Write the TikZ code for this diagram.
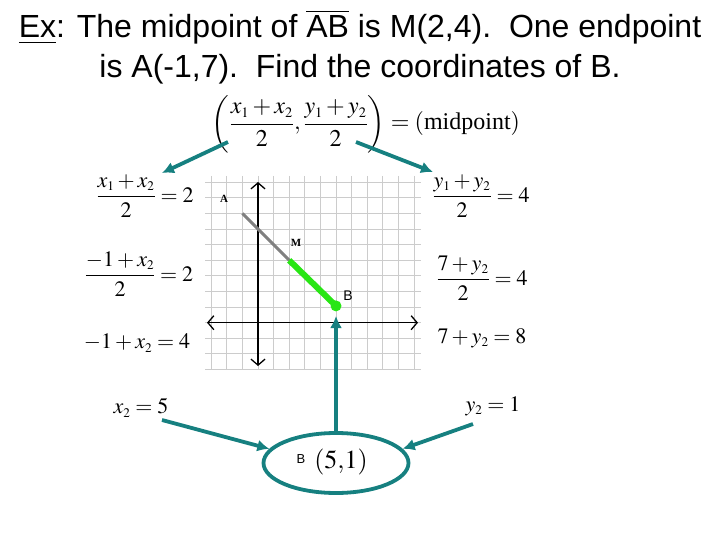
\documentclass[tikz,border=0pt]{standalone}
\usepackage{amsmath}
\usepackage{mathptmx}
\usepackage{fontspec}
\setmainfont{Liberation Serif}
\newfontfamily\arial{Liberation Sans}
\renewcommand{\defaultscriptratio}{.6}
\usepackage{tikz}
\usetikzlibrary{arrows.meta}
\usetikzlibrary{shapes.geometric}
\definecolor{tealarr}{RGB}{22,128,128}
\definecolor{grn}{RGB}{40,230,20}

\begin{document}
\begin{tikzpicture}[x=1pt, y=-1pt,
  eq/.style={inner sep=0pt, font=\fontsize{22}{26}\selectfont},
  arr/.style={-{Latex[length=12pt,width=12pt]}, line width=3.8pt, draw=tealarr},
  ttl/.style={anchor=base, inner sep=0pt, font=\arial\fontsize{32}{38}\selectfont},
  lbl/.style={inner sep=0pt, font=\bfseries\fontsize{11}{13}\selectfont}]
\useasboundingbox (0,0) rectangle (720,540);
\node [ttl] (T1) at (360,38) {\underline{Ex}: The midpoint of $\overline{\mbox{AB}}$ is M(2,4).\ \ One endpoint};
\node [ttl] (T2) at (360,78) {is A(-1,7).\ \ Find the coordinates of B.};
\node [eq, font=\fontsize{24}{28}\selectfont] (mid) at (366,124) {$\biggl(\dfrac{x_1+x_2}{2},\dfrac{y_1+y_2}{2}\biggr)=(\text{midpoint})$};
% grid
\begin{scope}
\clip (205,176) rectangle (421,370);
\foreach \k in {-4,...,10}
  \draw [gray!40, line width=1pt] ({258+15.6*\k},176) -- ({258+15.6*\k},370);
\foreach \k in {-3,...,9}
  \draw [gray!40, line width=1pt] (205,{322.7-15.6*\k}) -- (421,{322.7-15.6*\k});
\end{scope}
\draw [line width=1.3pt, {Straight Barb[length=6pt,width=14pt]}-{Straight Barb[length=6pt,width=14pt]}] (207,322.7) -- (418,322.7);
\draw [line width=1.3pt, {Straight Barb[length=6pt,width=14pt]}-{Straight Barb[length=6pt,width=14pt]}] (258,182) -- (258,366);
\coordinate (A) at (242.4,213.5);
\coordinate (M) at (289.2,260.3);
\coordinate (B) at (336,305.9);
\draw [gray, line width=3pt] (A) -- (M);
\draw [grn, line width=6pt] (M) -- (B);
\fill [grn] (B) circle (5.5);
\node [lbl] (Alab) at (224,199) {A};
\node [lbl] (Mlab) at (296,243) {M};
\node [inner sep=0pt, font=\arial\fontsize{14}{16}\selectfont] (Blab) at (348,296) {B};
% left side
\node [eq] (ex1) at (145,196) {$\dfrac{x_1+x_2}{2}=2$};
\node [eq] (ex2) at (139,274) {$\dfrac{-1+x_2}{2}=2$};
\node [eq] (ex3) at (137,343) {$-1+x_2=4$};
\node [eq] (ex4) at (141,408) {$x_2=5$};
% right side
\node [eq] (ey1) at (481,196) {$\dfrac{y_1+y_2}{2}=4$};
\node [eq] (ey2) at (482,278) {$\dfrac{7+y_2}{2}=4$};
\node [eq] (ey3) at (482,338) {$7+y_2=8$};
\node [eq] (ey4) at (493,406) {$y_2=1$};
% answer
\node [ellipse, draw=tealarr, line width=3.8pt, minimum width=145, minimum height=60] (ans) at (336,463) {};
\node [inner sep=0pt, font=\arial\fontsize{13}{15}\selectfont] (Bans) at (301,459) {B};
\node [eq, font=\fontsize{26}{30}\selectfont] (pt) at (341,462) {$(5{,}1)$};
% connectors
\coordinate (m1) at (228,142);
\coordinate (m2) at (356,142);
\coordinate (x1) at (162,173);
\coordinate (y1) at (433,172);
\coordinate (x5) at (162,420);
\coordinate (y5) at (473,424);
\coordinate (Btip) at (336,316);
\draw [arr] (m1) to (x1);
\draw [arr] (m2) to (y1);
\draw [arr] (x5) to (ans.180-12);
\draw [arr] (y5) to (ans.12);
\draw [arr] (ans.north) to (Btip);
\end{tikzpicture}
\end{document}
